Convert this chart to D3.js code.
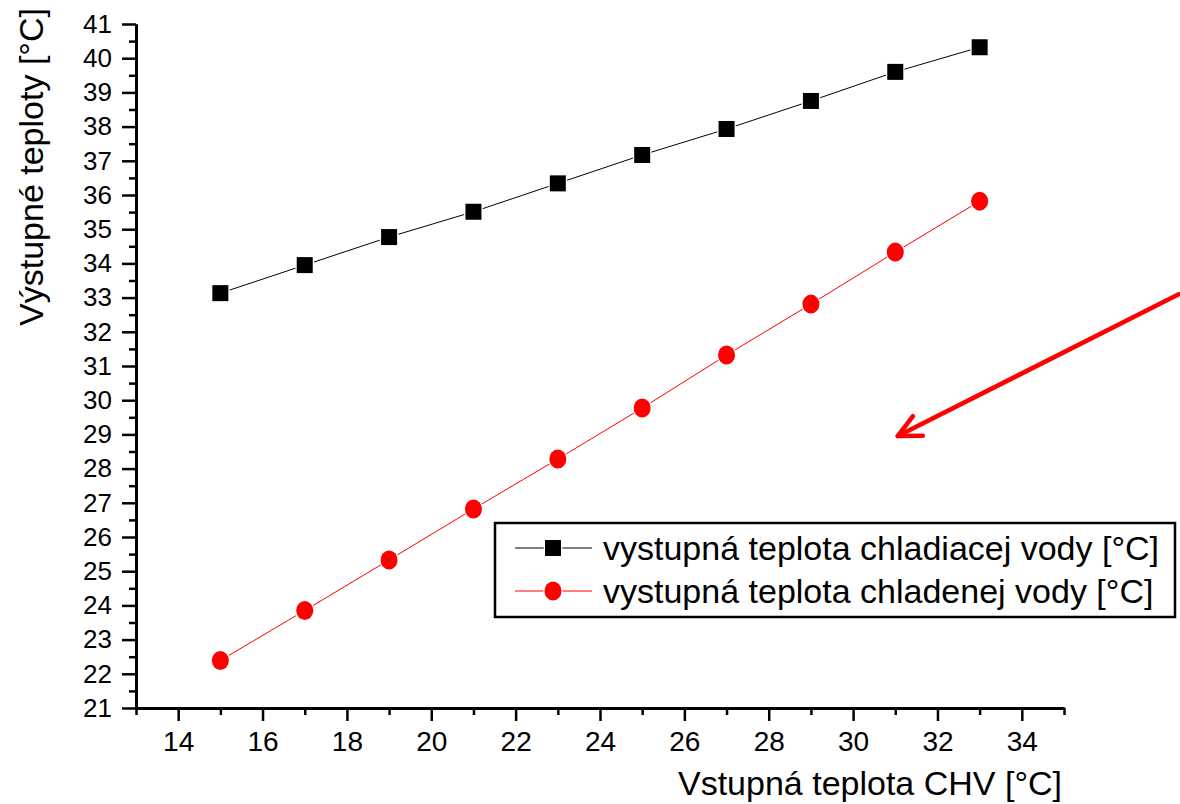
<!DOCTYPE html>
<html>
<head>
<meta charset="utf-8">
<script src="https://cdn.jsdelivr.net/npm/d3@7"></script>
<style>
  body { margin: 0; background: #fff; }
  svg { display: block; font-family: Arial, "Liberation Sans", sans-serif; }
</style>
</head>
<body>
<div id="chart"></div>
<script>
// --------------- Data ---------------
const VSTUP = [15, 17, 19, 21, 23, 25, 27, 29, 31, 33];
const CHLADIACEJ = [33.13, 33.95, 34.77, 35.51, 36.34, 37.17, 37.93, 38.75, 39.6, 40.32];
const CHLADENEJ = [22.39, 23.85, 25.33, 26.82, 28.28, 29.77, 31.32, 32.81, 34.33, 35.82];
const X_TICKS = [14, 16, 18, 20, 22, 24, 26, 28, 30, 32, 34];
const Y_TICKS = d3.range(21, 42);
const SERIES_NAMES = [
  "vystupná teplota chladiacej vody [°C]",
  "vystupná teplota chladenej vody [°C]",
];
// arrow annotation, in data units (start runs off the right edge)
const ARROW = [[37.72, 33.1], [31.06, 28.95]];

// --------------- Constants ---------------
const WIDTH = 1180;
const HEIGHT = 804;
const X_RANGE = [136, 1064];
const Y_RANGE = [708, 24];

const svg = d3
  .select("#chart")
  .append("svg")
  .attr("width", WIDTH)
  .attr("height", HEIGHT);

const X_SCALE = d3.scaleLinear().domain([13, 35]).range(X_RANGE);
const Y_SCALE = d3.scaleLinear().domain([21, 41]).range(Y_RANGE);

// --------------- Axes ---------------
const styleAxis = (g) => {
  g.selectAll("path.domain").attr("stroke", "#000").attr("stroke-width", 3);
  g.selectAll(".tick line").attr("stroke", "#000").attr("stroke-width", 2.5);
};

// minor ticks first
svg
  .append("g")
  .attr("transform", `translate(${X_RANGE[0]},0)`)
  .call(
    d3.axisLeft(Y_SCALE)
      .tickValues(d3.range(21.5, 41, 1))
      .tickSize(7)
      .tickSizeOuter(0)
      .tickFormat("")
  )
  .call(styleAxis);

svg
  .append("g")
  .attr("transform", `translate(0,${Y_RANGE[0]})`)
  .call(
    d3.axisBottom(X_SCALE)
      .tickValues(d3.range(13, 36, 2))
      .tickSize(7)
      .tickSizeOuter(0)
      .tickFormat("")
  )
  .call(styleAxis);

// major ticks
const yAxis = svg
  .append("g")
  .attr("transform", `translate(${X_RANGE[0]},0)`)
  .call(d3.axisLeft(Y_SCALE).tickValues(Y_TICKS).tickSize(14).tickSizeOuter(0).tickPadding(10))
  .call(styleAxis);
yAxis.selectAll(".tick text").attr("font-size", 26).attr("fill", "#000")
  .attr("font-family", "Arial, 'Liberation Sans', sans-serif");

const xAxis = svg
  .append("g")
  .attr("transform", `translate(0,${Y_RANGE[0]})`)
  .call(d3.axisBottom(X_SCALE).tickValues(X_TICKS).tickSize(13).tickSizeOuter(0).tickPadding(10))
  .call(styleAxis);
xAxis.selectAll(".tick text").attr("font-size", 28).attr("fill", "#000")
  .attr("font-family", "Arial, 'Liberation Sans', sans-serif");

// axis titles
svg
  .append("text")
  .attr("transform", `translate(43,167) rotate(-90)`)
  .attr("text-anchor", "middle")
  .attr("font-size", 34)
  .text("Výstupné teploty [°C]");

svg
  .append("text")
  .attr("x", 1062)
  .attr("y", 795)
  .attr("text-anchor", "end")
  .attr("font-size", 34)
  .text("Vstupná teplota CHV [°C]");

// --------------- Series ---------------
const line = d3
  .line()
  .x((d) => X_SCALE(d[0]))
  .y((d) => Y_SCALE(d[1]));

const blackData = VSTUP.map((v, i) => [v, CHLADIACEJ[i]]);
const redData = VSTUP.map((v, i) => [v, CHLADENEJ[i]]);

svg.append("path").datum(blackData).attr("d", line)
  .attr("fill", "none").attr("stroke", "#000").attr("stroke-width", 1);
svg.append("path").datum(redData).attr("d", line)
  .attr("fill", "none").attr("stroke", "#ff0000").attr("stroke-width", 1);

const SQ = 16;
const drawSquare = (sel) =>
  sel.append("rect")
    .attr("width", SQ).attr("height", SQ)
    .attr("fill", "#000").attr("stroke", "#fff").attr("stroke-width", 2.5)
    .attr("paint-order", "stroke");
const drawCircle = (sel) =>
  sel.append("ellipse")
    .attr("rx", 8.5).attr("ry", 9.5)
    .attr("fill", "#ff0000").attr("stroke", "#fff").attr("stroke-width", 2.5)
    .attr("paint-order", "stroke");

svg.append("g").selectAll("g").data(blackData).enter().append("g")
  .attr("transform", (d) => `translate(${X_SCALE(d[0]) - SQ / 2},${Y_SCALE(d[1]) - SQ / 2})`)
  .call(drawSquare);

svg.append("g").selectAll("g").data(redData).enter().append("g")
  .attr("transform", (d) => `translate(${X_SCALE(d[0])},${Y_SCALE(d[1])})`)
  .call(drawCircle);

// --------------- Arrow ---------------
const [p0, p1] = ARROW.map(([a, b]) => [X_SCALE(a), Y_SCALE(b)]);
const back = Math.atan2(p0[1] - p1[1], p0[0] - p1[0]);
const wing = 25;
const spread = (26 * Math.PI) / 180;
const arrowG = svg.append("g")
  .attr("stroke", "#ff0000").attr("stroke-width", 4.5)
  .attr("stroke-linecap", "round").attr("fill", "none");
arrowG.append("line")
  .attr("x1", p0[0]).attr("y1", p0[1]).attr("x2", p1[0]).attr("y2", p1[1]);
arrowG.append("path").attr(
  "d",
  `M${p1[0] + wing * Math.cos(back - spread)},${p1[1] + wing * Math.sin(back - spread)}` +
  `L${p1[0]},${p1[1]}` +
  `L${p1[0] + wing * Math.cos(back + spread)},${p1[1] + wing * Math.sin(back + spread)}`
).attr("stroke-linejoin", "round");

// --------------- Legend ---------------
const legend = svg.append("g").attr("transform", "translate(495,523)");
legend.append("rect")
  .attr("width", 680).attr("height", 94)
  .attr("fill", "#fff").attr("stroke", "#000").attr("stroke-width", 2.5);

const rows = legend.selectAll("g.row").data(SERIES_NAMES).enter().append("g")
  .attr("class", "row")
  .attr("transform", (_d, i) => `translate(0,${25 + i * 43})`);

rows.append("line")
  .attr("x1", 20).attr("x2", 97).attr("y1", 0).attr("y2", 0)
  .attr("stroke", (_d, i) => (i === 0 ? "#000" : "#ff0000")).attr("stroke-width", 1);

rows.filter((_d, i) => i === 0).append("g")
  .attr("transform", `translate(${58 - SQ / 2},${-SQ / 2})`).call(drawSquare);
rows.filter((_d, i) => i === 1).append("g")
  .attr("transform", "translate(58,0)").call(drawCircle);

rows.append("text")
  .attr("x", 108).attr("y", 12)
  .attr("font-size", 34)
  .text((d) => d);
</script>
</body>
</html>
